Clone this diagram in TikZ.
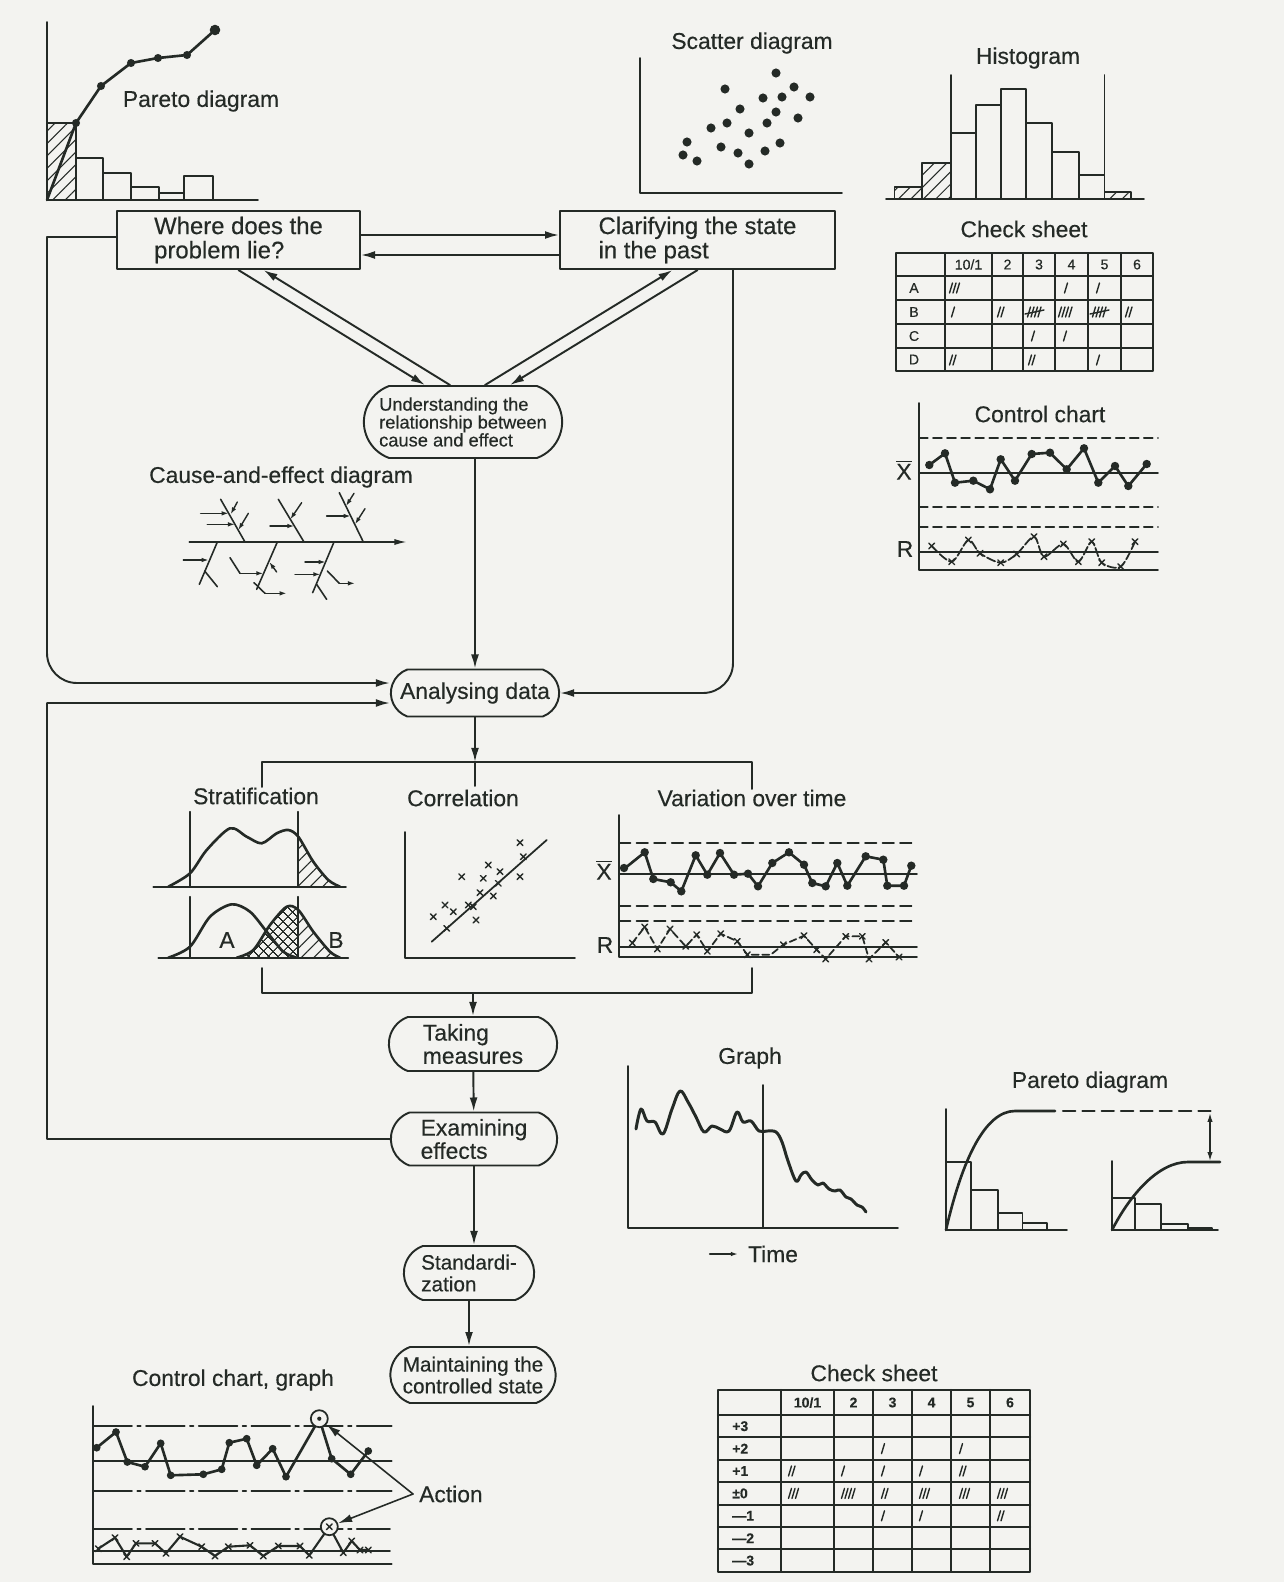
\documentclass[tikz,border=0pt]{standalone}
\usepackage{fontspec}
\setmainfont{Liberation Sans}[FakeBold=0.35]
\usetikzlibrary{arrows.meta,shapes.misc,patterns.meta,positioning}
\definecolor{ink}{RGB}{36,42,38}
\definecolor{paper}{RGB}{243,243,240}
\newcommand{\boxfont}{\fontsize{13}{13.2}\selectfont}
\newcommand{\qfont}{\fontsize{13.6}{13.8}\selectfont\lineskiplimit=-6pt}
\newcommand{\stepfont}{\fontsize{11.8}{12.4}\selectfont}
\newcommand{\notefont}{\fontsize{10.4}{10.2}\selectfont\lineskiplimit=-6pt}
\newcommand{\tabfont}{\fontsize{8}{9}\selectfont}
\newcommand{\xmk}[2]{\draw[line width=.8pt] (#1,#2) +(-1.6pt,-1.6pt) -- +(1.6pt,1.6pt) +(-1.6pt,1.6pt) -- +(1.6pt,-1.6pt);}
\newcommand{\tallymark}[3]{\foreach \tk in {1,...,#3} {\draw[line width=.8pt] ({#1+3.5*\tk},{#2+5}) -- ++(3,-10);}}
\newcommand{\tallyfive}[2]{\tallymark{#1}{#2}{4}\draw[line width=.8pt] ({#1+1},{#2+2}) -- ++(19,-4);}
\tikzset{
  flow/.style={line width=1.1pt},
  arr/.style={line width=1.1pt,-{Latex[length=8pt,width=4.5pt]}},
  sarr/.style={line width=.8pt,-{Latex[length=4pt,width=2.6pt]}},
  qbox/.style={draw,line width=1.1pt,align=left,font=\qfont,minimum height=1.16cm},
  stepbox/.style={draw,line width=1.1pt,rounded rectangle,rounded rectangle arc length=140,align=left,font=\boxfont},
  charttitle/.style={font=\boxfont},
  hatch/.style={pattern={Lines[angle=45,distance=5pt,line width=.6pt]},pattern color=ink},
  xhatch/.style={pattern={Hatch[angle=45,distance=4pt,line width=.6pt]},pattern color=ink},
  chart/.style={line width=1pt},
  trace/.style={line width=1.5pt},
  limit/.style={line width=1pt,dash pattern=on 5pt off 3pt},
  dashdot/.style={line width=1pt,dash pattern=on 22pt off 3pt on 2pt off 3pt}
}
\begin{document}
\begin{tikzpicture}[x=0.02cm,y=-0.02cm,color=ink,line cap=round,line join=round]
\fill[paper] (0,0) rectangle (1284,1582);
\useasboundingbox (0,0) rectangle (1284,1582);

\draw[hatch,chart] (47,123) rectangle (76,200);
\foreach \a/\b/\h in {76/102.7/158,102.7/130.7/173,130.7/159/187,159/184.3/193,184.3/212.7/176}
  \draw[chart] (\a,200) rectangle (\b,\h);
\draw[chart] (47,22) -- (47,200) -- (258,200);
\draw[trace] (47,200) -- (76,123) -- (101,86) -- (131,63) -- (158,58) -- (187,55) -- (215,30);
\foreach \p in {(76,123),(101,86),(131,63),(158,58),(187,55)} \fill \p circle (2.3pt);
\fill (215,30) circle (3pt);
\node[charttitle] (paretoT) at (201,101) {Pareto diagram};

\node[charttitle] (scatT) at (752,43) {Scatter diagram};
\draw[chart] (640,58) -- (640,193) -- (842,193);
\foreach \p in {(776,73),(725,89),(794,87),(763,98),(782,97),(810,97),(740,109),(776,112),(798,118),(727,123),(767,123),(711,128),(749,133),(687,142),(780,143),(721,147),(765,151),(683,155),(738,153),(697,161),(749,164)}
  \fill \p circle (2.6pt);

\node[charttitle] (histT) at (1028,58) {Histogram};
\foreach \a/\b/\h in {894.4/921.7/186.7,921.7/951.1/162.7,1104.5/1131/191.7}
  \draw[chart,hatch] (\a,199) rectangle (\b,\h);
\foreach \a/\b/\h in {951.1/976.3/132.7,976.3/1000.7/105,1000.7/1025.9/89.3,1025.9/1052/122.7,1052/1079.3/151.7,1079.3/1104.5/175}
  \draw[chart] (\a,199) rectangle (\b,\h);
\draw[chart] (886,199) -- (1144,199);
\draw[chart] (951.1,75) -- (951.1,199) (1104.5,75) -- (1104.5,199);

\node[charttitle] (checkT) at (1024,229) {Check sheet};
\draw[line width=1.2pt] (896,253) rectangle (1153,371);
\foreach \x in {945,992,1023,1055,1088,1121} \draw[chart] (\x,253) -- (\x,371);
\foreach \y in {276,300,324,348} \draw[chart] (896,\y) -- (1153,\y);
\foreach \x/\t in {968.5/{10/1},1007.5/2,1039/3,1071.5/4,1104.5/5,1137/6}
  \node[font=\tabfont] at (\x,264.5) {\t};
\foreach \y/\t in {288/A,312/B,336/C,359.5/D}
  \node[font=\tabfont] at (914,\y) {\t};
\tallymark{946}{288}{3} \tallymark{1061}{288}{1} \tallymark{1093}{288}{1}
\tallymark{948}{312}{1} \tallymark{994}{312}{2} \tallyfive{1024}{312}
\tallymark{1055}{312}{4} \tallyfive{1089}{312} \tallymark{1122}{312}{2}
\tallymark{1028}{336}{1} \tallymark{1060}{336}{1}
\tallymark{946}{360}{2} \tallymark{1025}{360}{2} \tallymark{1093}{360}{1}

\node[charttitle] (ctrlT) at (1040,414) {Control chart};
\draw[chart] (919,403) -- (919,570) -- (1158,570);
\draw[limit] (919,438.3) -- (1158,438.3) (919,506.7) -- (1158,506.7) (919,527.3) -- (1158,527.3);
\draw[chart] (919,473.3) -- (1158,473.3) (919,552.3) -- (1158,552.3);
\node[font=\boxfont] (xbarA) at (904,470) {$\overline{\mbox{X}}$};
\node[font=\boxfont] (rA) at (905,549) {R};
\draw[trace] (929.3,465) -- (945,453.3) -- (955,482.7) -- (973.3,480.7) -- (990,489.3) -- (1000.7,459.3) -- (1015,480.7) -- (1031.7,454) -- (1050,452.7) -- (1066.7,469.3) -- (1084,448.3) -- (1098.3,482.7) -- (1115,466) -- (1128.3,486) -- (1146.7,464);
\foreach \p in {(929.3,465),(945,453.3),(955,482.7),(973.3,480.7),(990,489.3),(1000.7,459.3),(1015,480.7),(1031.7,454),(1050,452.7),(1066.7,469.3),(1084,448.3),(1098.3,482.7),(1115,466),(1128.3,486),(1146.7,464)}
  \fill \p circle (2.4pt);
\draw[line width=1pt,dash pattern=on 5pt off 1.5pt] plot[smooth,tension=.5] coordinates {(931.7,546) (951.7,561.7) (968.3,540) (980,553.3) (1000.7,562.7) (1016.7,554) (1034,536.7) (1044,556.7) (1063.3,544) (1078.3,561.7) (1091.7,541.7) (1101.7,562.7) (1120.7,566.7) (1135,541.7)};
\foreach \x/\y in {931.7/546,951.7/561.7,968.3/540,980/553.3,1000.7/562.7,1016.7/554,1034/536.7,1044/556.7,1063.3/544,1078.3/561.7,1091.7/541.7,1101.7/562.7,1120.7/566.7,1135/541.7}
  {\xmk{\x}{\y}}

\node[qbox,minimum width=4.86cm] (where) at (238.5,240) {Where does the\\problem lie?};
\node[qbox,minimum width=5.5cm] (clar) at (697.5,240) {Clarifying the state\\in the past};
\node[stepbox,font=\notefont,minimum width=4.2cm,minimum height=1.44cm] (under) at (463,422) {Understanding the\\relationship between\\cause and effect};
\node[stepbox,minimum width=3.6cm,minimum height=0.94cm] (anal) at (475,693) {Analysing data};
\node[stepbox,minimum width=3.6cm,minimum height=1.08cm] (take) at (473,1044) {Taking\\measures};
\node[stepbox,minimum width=3.56cm,minimum height=1.06cm] (exam) at (474,1139) {Examining\\effects};
\node[stepbox,font=\stepfont,minimum width=2.84cm,minimum height=1.08cm] (stand) at (469,1273) {Standardi-\\zation};
\node[stepbox,font=\stepfont,minimum width=3.54cm,minimum height=1.12cm] (maint) at (473,1375) {Maintaining the\\controlled state};

\draw[arr] ([yshift=0.1cm]where.east) -- ([yshift=0.1cm]where.east -| clar.west);
\draw[arr] ([yshift=-0.3cm]clar.west) -- ([yshift=-0.3cm]clar.west -| where.east);
\draw[arr] (where.south) -- ([xshift=-0.76cm]under.north);
\draw[arr] ([xshift=-0.26cm]under.north) -- ([xshift=0.5cm]where.south);
\draw[arr] ([xshift=0.44cm]under.north) -- ([xshift=-0.5cm]clar.south);
\draw[arr] (clar.south) -- ([xshift=0.94cm]under.north);
\draw[arr] (under.south -| anal.north) -- (anal.north);

\coordinate (loopTop) at (47,237);
\coordinate (loopMid) at (47,683);
\coordinate (loopLow) at (47,703);
\draw[flow] ([yshift=0.06cm]where.west) -- (loopTop);
\draw[arr,rounded corners=0.6cm] (loopTop) -- (loopMid) -- ([yshift=0.2cm]anal.west);
\draw[arr,rounded corners=0.6cm] ([xshift=0.71cm]clar.south) |- (anal.east);
\draw[arr] (exam.west) -| (loopLow) -- ([yshift=-0.2cm]anal.west);

\coordinate (splitL) at (262,762);
\coordinate (splitR) at (752,762);
\coordinate (stratIn) at (262,787);
\coordinate (corrIn) at (475,786);
\coordinate (varIn) at (752,789);
\draw[arr] (anal.south) -- (anal.south |- splitL);
\draw[flow] (stratIn) -- (splitL) -- (splitR) -- (varIn);
\draw[flow] (anal.south |- splitL) -- (corrIn);
\coordinate (joinL) at (262,993);
\coordinate (joinR) at (752,993);
\coordinate (stratOut) at (262,968);
\coordinate (varOut) at (752,968);
\draw[flow] (stratOut) -- (joinL) -- (joinR) -- (varOut);
\draw[arr] (take.north |- joinL) -- (take.north);
\draw[arr] (take) -- (exam);
\draw[arr] (exam.south) -- (exam.south |- stand.north);
\draw[arr] (stand.south) -- (stand.south |- maint.north);

\node[charttitle] (fishT) at (281,477) {Cause-and-effect diagram};
\begin{scope}[shift={(130,456)},scale=1/3,line width=.9pt]
\draw[-{Latex[length=7pt,width=3.5pt]}] (178,258) -- (830,258);
\draw (272,130) -- (345,258) (445,130) -- (522,258) (628,110) -- (700,258);
\draw (262,258) -- (208,385) (442,258) -- (380,400) (612,258) -- (548,410);
\draw[sarr] (322,138) -- (302,175);
\draw[sarr] (355,172) -- (325,222);
\draw[sarr] (212,172) -- (296,172);
\draw[sarr] (232,205) -- (315,205);
\draw[sarr] (515,140) -- (481,190);
\draw[sarr] (420,210) -- (493,210);
\draw[sarr] (672,112) -- (648,150);
\draw[sarr] (705,158) -- (675,205);
\draw[sarr] (590,180) -- (662,180);
\draw[sarr] (160,312) -- (236,312);
\draw (224,345) -- (262,392);
\draw (300,305) -- (330,352);
\draw[sarr] (330,352) -- (400,352);
\draw[sarr] (440,348) -- (418,318);
\draw (372,380) -- (405,412);
\draw[sarr] (405,412) -- (470,412);
\draw[sarr] (525,318) -- (587,318);
\draw[sarr] (495,355) -- (571,355);
\draw (592,345) -- (628,382);
\draw[sarr] (628,382) -- (675,382);
\draw (560,385) -- (590,430);
\end{scope}

\node[charttitle] (stratT) at (256,796) {Stratification};
\begin{scope}
\clip (298.3,800) rectangle (350,886.7);
\fill[hatch] plot[smooth] coordinates {(168.3,886.7) (190,873.3) (206.7,850) (230,828.3) (246.7,836.7) (261.7,843.3) (276.7,833.3) (288.3,830) (298.3,836.7) (313.3,861.7) (328.3,880) (340,886.7)} -- cycle;
\end{scope}
\begin{scope}
\clip (236,890) rectangle (298.3,957.7);
\fill[xhatch] plot[smooth] coordinates {(236.7,957.7) (253.3,950) (270,925) (286.7,906.7) (298.3,910) (313.3,931.7) (330,951.7) (340,957.7)} -- cycle;
\end{scope}
\begin{scope}
\clip (298.3,890) rectangle (350,957.7);
\fill[hatch] plot[smooth] coordinates {(236.7,957.7) (253.3,950) (270,925) (286.7,906.7) (298.3,910) (313.3,931.7) (330,951.7) (340,957.7)} -- cycle;
\end{scope}
\draw[trace] plot[smooth] coordinates {(168.3,886.7) (190,873.3) (206.7,850) (230,828.3) (246.7,836.7) (261.7,843.3) (276.7,833.3) (288.3,830) (298.3,836.7) (313.3,861.7) (328.3,880) (340,886.7)};
\draw[trace] plot[smooth] coordinates {(168.3,957.7) (190,946.7) (210,916.7) (231.7,904.3) (250,911.7) (266.7,931.7) (283.3,951.7) (296.7,957.7)};
\draw[trace] plot[smooth] coordinates {(236.7,957.7) (253.3,950) (270,925) (286.7,906.7) (298.3,910) (313.3,931.7) (330,951.7) (340,957.7)};
\draw[chart] (153.3,886.7) -- (346,886.7) (158.3,957.7) -- (348.3,957.7);
\draw[chart] (190,811.7) -- (190,886.7) (298.3,811.7) -- (298.3,886.7);
\draw[chart] (190,896.7) -- (190,957.7) (298.3,896.7) -- (298.3,957.7);
\node[font=\boxfont] (labA) at (227,940) {A};
\node[font=\boxfont] (labB) at (336,940) {B};

\node[charttitle] (corrT) at (463,798) {Correlation};
\draw[chart] (405,832) -- (405,958) -- (575,958);
\draw[chart] (431.7,941.7) -- (546.7,840);
\foreach \x/\y in {520/842.7,488.3/865,461.7/876.7,483.3/878.3,500/871.7,520/876.7,498.3/883.3,493.3/896,480/892.7,445/905,453.3/911.7,468.3/905,473.3/906.7,433.3/916.7,476/920,446.7/928.3,523.3/856.7}
  {\xmk{\x}{\y}}

\node[charttitle] (varT) at (752,798) {Variation over time};
\draw[chart] (619,815) -- (619,957) -- (917,957);
\draw[limit,dash pattern=on 6.5pt off 3.5pt] (619,843) -- (917,843) (619,905.7) -- (917,905.7) (619,920.7) -- (917,920.7);
\draw[chart] (619,873.7) -- (917,873.7) (619,947) -- (917,947);
\node[font=\boxfont] (xbarB) at (604,870) {$\overline{\mbox{X}}$};
\node[font=\boxfont] (rB) at (605,945) {R};
\draw[trace] (624,868) -- (627.3,866.3) -- (644.7,852.3) -- (653.3,879) -- (670.7,882.3) -- (681.3,891.3) -- (695.7,855.3) -- (707.3,874.7) -- (720,853) -- (734,874.7) -- (748,873.7) -- (758,886.3) -- (772.3,863) -- (789,852.3) -- (804,864.7) -- (812.3,883) -- (825.7,886.3) -- (837.3,863) -- (847.3,885.7) -- (865.7,856.3) -- (883.3,859.7) -- (887.3,885.7) -- (904,885.7) -- (911.3,865.7);
\foreach \p in {(624,868),(644.7,852.3),(653.3,879),(670.7,882.3),(681.3,891.3),(695.7,855.3),(707.3,874.7),(720,853),(734,874.7),(748,873.7),(758,886.3),(772.3,863),(789,852.3),(804,864.7),(812.3,883),(825.7,886.3),(837.3,863),(847.3,885.7),(865.7,856.3),(883.3,859.7),(887.3,885.7),(904,885.7),(911.3,865.7)}
  \fill \p circle (2.4pt);
\draw[line width=1pt,dash pattern=on 4pt off 2pt] (632.3,943) -- (644.7,927) -- (657.3,949) -- (670,929) -- (685.7,946.3) -- (696.7,934.7) -- (707.3,951.3) -- (720.7,933.7) -- (737.3,941.3) -- (747.3,954.7) -- (770.7,954.7) -- (783.3,944.7) -- (804,935.7) -- (816.7,949.7) -- (825.7,959) -- (845.7,936.3) -- (862.3,936.3) -- (869,959) -- (885.7,942.3) -- (899,957);
\foreach \x/\y in {632.3/943,644.7/927,657.3/949,670/929,685.7/946.3,696.7/934.7,707.3/951.3,720.7/933.7,737.3/941.3,747.3/954.7,783.3/944.7,804/935.7,816.7/949.7,825.7/959,845.7/936.3,862.3/936.3,869/959,885.7/942.3,899/957}
  {\xmk{\x}{\y}}

\node[charttitle] (graphT) at (750,1058) {Graph};
\draw[chart] (628,1066) -- (628,1228) -- (898,1228);
\draw[chart] (763,1085) -- (763,1228);
\draw[trace,line width=1.7pt] plot[smooth,tension=.6] coordinates {(636,1129) (641,1109) (647,1121) (655,1122) (663,1134) (672,1109) (680,1091) (688,1102) (696,1117) (704,1132) (712,1126) (720,1129) (729,1131) (737,1112) (743,1122) (751,1121) (759,1131) (767,1131) (776,1132) (782,1142) (788,1161) (796,1181) (801,1175) (806,1172) (812,1180) (818,1185) (823,1183) (829,1189) (835,1191) (840,1190) (846,1197) (851,1199) (857,1205) (862,1207) (866,1212)};
\node[charttitle] (timeL) at (773,1254) {Time};
\draw[sarr,line width=1.1pt] ([xshift=-0.64cm]timeL.west) -- ([xshift=-0.08cm]timeL.west);

\node[charttitle] (pareto2T) at (1090,1082) {Pareto diagram};
\foreach \a/\b/\h in {946/970.7/1161.7,970.7/998/1189.7,998/1022.5/1213,1022.5/1047/1223}
  \draw[chart] (\a,1230) rectangle (\b,\h);
\draw[chart] (946,1109) -- (946,1230) -- (1067,1230);
\draw[trace] (946,1230) .. controls (962,1160) and (985,1111) .. (1015,1111) -- (1055,1111);
\draw[limit,line width=1.2pt,dash pattern=on 7pt off 4pt] (1063,1111) -- (1216,1111);
\foreach \a/\b/\h in {1112/1134.7/1198.3,1134.7/1161.3/1204,1161.3/1188/1224,1188/1212.3/1228}
  \draw[chart] (\a,1230) rectangle (\b,\h);
\draw[chart] (1112,1161) -- (1112,1230) -- (1218,1230);
\draw[trace] (1112,1230) .. controls (1130,1195) and (1158,1162) .. (1188,1162) -- (1220,1162);
\coordinate (gapTop) at (1210,1113);
\coordinate (gapBot) at (1210,1161);
\draw[line width=.8pt,{Latex[length=5pt,width=3pt]}-{Latex[length=5pt,width=3pt]}] (gapTop) -- (gapBot);

\node[charttitle] (ccgT) at (233,1380) {Control chart, graph};
\draw[chart] (93.3,1406) -- (93.3,1564.3) -- (391.7,1564.3);
\draw[dashdot] (93.3,1426) -- (391.7,1426) (93.3,1491) -- (391.7,1491) (93.3,1529.3) -- (390,1529.3);
\draw[chart] (93.3,1461) -- (391.7,1461) (93.3,1551) -- (390,1551);
\draw[trace] (96.7,1447.7) -- (116,1432) -- (127.3,1462) -- (145,1466.7) -- (160.7,1443.3) -- (170.7,1475.3) -- (203.3,1474.3) -- (221.7,1469.3) -- (229.3,1442.7) -- (246.7,1438.7) -- (256.7,1465.3) -- (272.7,1448.7) -- (286,1476.7) -- (319.3,1418.7) -- (331.7,1458.7) -- (350.7,1474.3) -- (368.3,1451);
\foreach \p in {(96.7,1447.7),(116,1432),(127.3,1462),(145,1466.7),(160.7,1443.3),(170.7,1475.3),(203.3,1474.3),(221.7,1469.3),(229.3,1442.7),(246.7,1438.7),(256.7,1465.3),(272.7,1448.7),(286,1476.7),(331.7,1458.7),(350.7,1474.3),(368.3,1451)}
  \fill \p circle (2.2pt);
\node[circle,draw,line width=1pt,fill=paper,minimum size=0.34cm,inner sep=0pt] (outX) at (319.3,1418.7) {};
\fill (319.3,1418.7) circle (1.2pt);
\draw[trace,line width=1.2pt] (98.3,1548.7) -- (115,1537.7) -- (126.7,1556.7) -- (136,1543.3) -- (155,1543.3) -- (166,1553.3) -- (180,1536.7) -- (201.7,1546.7) -- (215,1556) -- (228.3,1546.7) -- (250,1545.3) -- (263.3,1556) -- (278.3,1546) -- (300,1546) -- (309.3,1555.3) -- (329.3,1526.7) -- (343.3,1552.7) -- (351.7,1541) -- (360,1550) -- (368.3,1550);
\foreach \x/\y in {98.3/1548.7,115/1537.7,126.7/1556.7,136/1543.3,155/1543.3,166/1553.3,180/1536.7,201.7/1546.7,215/1556,228.3/1546.7,250/1545.3,263.3/1556,278.3/1546,300/1546,309.3/1555.3,343.3/1552.7,351.7/1541,360/1550,368.3/1550}
  {\xmk{\x}{\y}}
\node[circle,draw,line width=1pt,fill=paper,minimum size=0.34cm,inner sep=0pt] (outR) at (329.3,1526.7) {};
\xmk{329.3}{1526.7}
\node[charttitle,anchor=west] (act) at (413,1494) {Action};
\draw[arr,line width=.9pt] (act.west) -- (outX);
\draw[arr,line width=.9pt] (act.west) -- (outR);

\node[charttitle] (check2T) at (874,1373) {Check sheet};
\draw[line width=1.4pt] (718,1390) rectangle (1030,1571.8);
\foreach \x in {781,834,873,912,951,990} \draw[line width=1.2pt] (\x,1390) -- (\x,1571.8);
\foreach \y in {1415,1437.4,1459.8,1482.2,1504.6,1527,1549.4} \draw[line width=1.2pt] (718,\y) -- (1030,\y);
\foreach \x/\t in {807.5/{10/1},853.5/2,892.5/3,931.5/4,970.5/5,1010/6}
  \node[font=\tabfont\bfseries] at (\x,1402.5) {\t};
\foreach \y/\t in {1426.2/+3,1448.6/+2,1471/+1,1493.4/±0,1515.8/—1,1538.2/—2,1560.6/—3}
  \node[font=\tabfont\bfseries,anchor=west] at (726,\y) {\t};
\tallymark{878}{1448.6}{1} \tallymark{956}{1448.6}{1}
\tallymark{785}{1471}{2} \tallymark{838}{1471}{1} \tallymark{878}{1471}{1} \tallymark{916}{1471}{1} \tallymark{956}{1471}{2}
\tallymark{785}{1493.4}{3} \tallymark{838}{1493.4}{4} \tallymark{878}{1493.4}{2} \tallymark{916}{1493.4}{3} \tallymark{956}{1493.4}{3} \tallymark{994}{1493.4}{3}
\tallymark{878}{1515.8}{1} \tallymark{916}{1515.8}{1} \tallymark{994}{1515.8}{2}
\end{tikzpicture}
\end{document}
